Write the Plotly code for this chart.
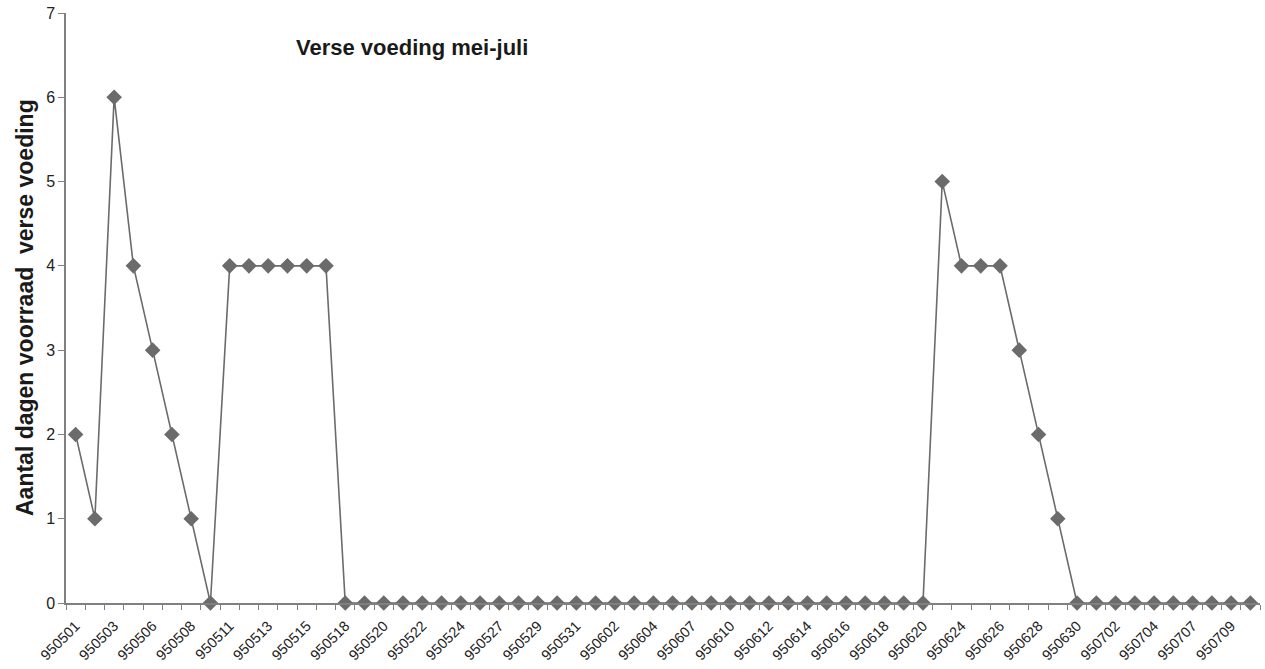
import plotly.graph_objects as go

dates = ["950501", "950502", "950503", "950504", "950506", "950507", "950508", "950509",
         "950511", "950512", "950513", "950514", "950515", "950517", "950518", "950519",
         "950520", "950521", "950522", "950523", "950524", "950525", "950527", "950528",
         "950529", "950530", "950531", "950601", "950602", "950603", "950604", "950605",
         "950607", "950608", "950610", "950611", "950612", "950613", "950614", "950615",
         "950616", "950617", "950618", "950619", "950620", "950622", "950624", "950625",
         "950626", "950627", "950628", "950629", "950630", "950701", "950702", "950703",
         "950704", "950705", "950707", "950708", "950709", "950710"]

values = [2, 1, 6, 4, 3, 2, 1, 0,
          4, 4, 4, 4, 4, 4, 0, 0,
          0, 0, 0, 0, 0, 0, 0, 0,
          0, 0, 0, 0, 0, 0, 0, 0,
          0, 0, 0, 0, 0, 0, 0, 0,
          0, 0, 0, 0, 0, 5, 4, 4,
          4, 3, 2, 1, 0, 0, 0, 0,
          0, 0, 0, 0, 0, 0]

tick_text = [d if i % 2 == 0 else "" for i, d in enumerate(dates)]

title_text = "Verse voeding mei-juli"
y_title = "Aantal dagen voorraad  verse voeding"

grey = "#6b6b6b"
axis_grey = "#808080"
font_family = "Liberation Sans, Arial, sans-serif"

fig = go.Figure()
fig.add_trace(go.Scatter(
    x=dates, y=values, mode="lines+markers",
    line=dict(color=grey, width=1.6),
    marker=dict(symbol="diamond", size=12, color=grey),
    cliponaxis=False, showlegend=False, hoverinfo="skip",
))

fig.update_layout(
    width=1265, height=669,
    margin=dict(l=66, r=5, t=13, b=66, autoexpand=False),
    paper_bgcolor="white", plot_bgcolor="white",
    font=dict(family=font_family, color="#222222"),
    xaxis=dict(
        type="category",
        range=[-0.5, len(dates) - 0.5],
        tickmode="array", tickvals=dates, ticktext=tick_text,
        tickson="boundaries",
        ticks="outside", ticklen=5, tickcolor=axis_grey,
        tickangle=-45, tickfont=dict(size=14.5), ticklabelstandoff=7,
        showline=True, linecolor=axis_grey, linewidth=1.5,
        showgrid=False, zeroline=False, automargin=False,
    ),
    yaxis=dict(
        range=[0, 7], dtick=1,
        ticks="outside", ticklen=6, tickcolor=axis_grey,
        tickfont=dict(size=16),
        showline=True, linecolor=axis_grey, linewidth=1.5,
        showgrid=False, zeroline=False, automargin=False,
    ),
    annotations=[
        dict(
            text="<b>" + title_text + "</b>",
            xref="paper", yref="paper", x=0.2894, y=0.9407,
            xanchor="center", yanchor="middle", showarrow=False,
            font=dict(size=22, family=font_family, color="#1a1a1a"),
        ),
        dict(
            text="<b>" + y_title + "</b>",
            xref="paper", yref="paper", x=0, y=0.5, xshift=-41,
            xanchor="center", yanchor="middle", textangle=-90, showarrow=False,
            font=dict(size=23, family=font_family, color="#1a1a1a"),
        ),
    ],
)

fig.write_html("out.html", config={"displayModeBar": False},
               post_script="document.body.style.margin='0px';document.body.style.overflow='hidden';")
